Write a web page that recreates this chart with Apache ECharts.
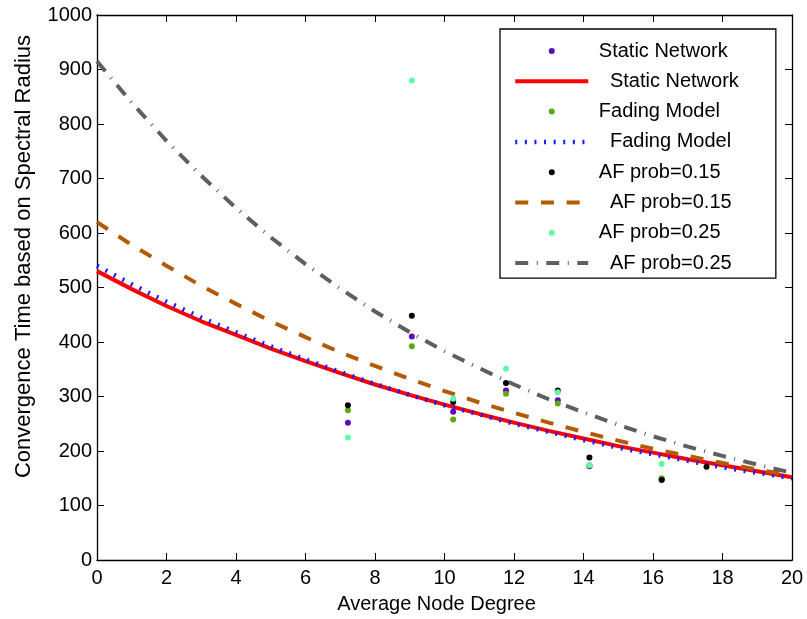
<!DOCTYPE html>
<html>
<head>
<meta charset="utf-8">
<script src="https://cdn.jsdelivr.net/npm/echarts@6/dist/echarts.min.js"></script>
<style>
html,body{margin:0;padding:0;background:#fff;}
#chart{width:807px;height:619px;}
</style>
</head>
<body>
<div id="chart"></div>
<script>
// ---- data ----
const curveX = [0,1,2,3,4,5,6,7,8,9,10,11,12,13,14,15,16,17,18,19,20];
const staticCurve = [530,497,466,438,413,388,365,343,322,303,285,268,252,237,223,209,197,185,174,163,152];
const fadingCurve = [540,506,474,445,418,392,368,345,323,303,284,267,250,235,220,206,194,182,170,160,150];
const af15Curve   = [620,578,540,503,470,438,409,381,356,332,310,289,270,252,235,219,204,191,178,166,155];
const af25Curve   = [915,839,769,705,646,592,543,498,456,418,383,352,322,295,271,248,227,208,191,175,160];

const staticPtsX = [7.22,9.06,10.25,11.77,13.26,14.17,16.25];
const staticPtsY = [252,410,272,311,293,172,148];
const fadingPtsX = [7.22,9.06,10.25,11.77,13.26,14.17,16.25];
const fadingPtsY = [275,392,258,305,287,174,150];
const af15PtsX   = [7.22,9.06,10.25,11.77,13.26,14.17,16.25,17.54];
const af15PtsY   = [284,448,290,325,311,188,147,171];
const af25PtsX   = [7.22,9.06,10.25,11.77,13.26,14.17,16.25];
const af25PtsY   = [225,880,296,351,308,174,176];

const xTicks = {min:0,max:20,interval:2};
const yTicks = {min:0,max:1000,interval:100};

const names = [' Static Network','   Static Network',' Fading Model','   Fading Model',
               ' AF prob=0.15','   AF prob=0.15',' AF prob=0.25','   AF prob=0.25'];

function zip(xs, ys){ return xs.map((x,i)=>[x, ys[i]]); }

const FONT = 'Liberation Sans';
const FS = 20;
const chart = echarts.init(document.getElementById('chart'), null, {renderer:'canvas'});

function scatter(name, xs, ys, color){
  return {name, type:'scatter', data: zip(xs,ys), symbol:'circle', symbolSize:6,
          itemStyle:{color, opacity:1}, xAxisIndex:0, yAxisIndex:0, animation:false, z:3};
}
function line(name, ys, color, width, type){
  return {name, type:'line', data: zip(curveX, ys), showSymbol:false, symbol:'none',
          lineStyle:{color, width, type}, itemStyle:{color}, xAxisIndex:0, yAxisIndex:0,
          animation:false, z:2};
}

const axisCommon = {
  axisLine:{show:true, onZero:false, lineStyle:{color:'#000', width:1.3}},
  axisTick:{show:true, inside:true, length:7, lineStyle:{color:'#000'}},
  splitLine:{show:false}
};
const plain = v => String(v);

const option = {
  backgroundColor:'#fff',
  animation:false,
  grid:{left:97, right:15, top:15, bottom:57, containLabel:false},
  xAxis:[
    Object.assign({type:'value', position:'bottom', min:xTicks.min, max:xTicks.max, interval:xTicks.interval,
      name:'Average Node Degree', nameLocation:'middle', nameGap:34,
      nameTextStyle:{fontFamily:FONT, fontSize:FS, color:'#000', padding:[0,16,0,0]},
      axisLabel:{fontFamily:FONT, fontSize:FS, color:'#000', margin:8, formatter:plain}}, axisCommon),
    Object.assign({type:'value', position:'top', min:xTicks.min, max:xTicks.max, interval:xTicks.interval,
      axisLabel:{show:false}}, axisCommon)
  ],
  yAxis:[
    Object.assign({type:'value', position:'left', min:yTicks.min, max:yTicks.max, interval:yTicks.interval,
      name:'Convergence Time based on Spectral Radius', nameLocation:'middle', nameGap:62,
      nameTextStyle:{fontFamily:FONT, fontSize:22, color:'#000', padding:[0,0,0,62]},
      axisLabel:{fontFamily:FONT, fontSize:FS, color:'#000', margin:5, formatter:plain}}, axisCommon),
    Object.assign({type:'value', position:'right', min:yTicks.min, max:yTicks.max, interval:yTicks.interval,
      axisLabel:{show:false}}, axisCommon)
  ],
  legend:{
    orient:'vertical', left:500, top:29,
    data:names.map((n,i)=> i%2===1 ? {name:n, itemStyle:{opacity:0}} : {name:n}),
    itemWidth:73, itemHeight:6, itemGap:10.3,
    padding:[12,37,5,13],
    borderColor:'#000', borderWidth:1.3, backgroundColor:'#fff',
    lineStyle:{width:'inherit'},
    textStyle:{fontFamily:FONT, fontSize:FS, color:'#000', lineHeight:20},
    selectedMode:false
  },
  series:[
    scatter(names[0], staticPtsX, staticPtsY, '#5b0cb3'),
    line(names[1], staticCurve, '#ff0000', 4, 'solid'),
    scatter(names[2], fadingPtsX, fadingPtsY, '#5ca810'),
    line(names[3], fadingCurve, '#1a1aff', 4.5, [2,7.6]),
    scatter(names[4], af15PtsX, af15PtsY, '#000000'),
    line(names[5], af15Curve, '#b35a00', 4, [13,12.7]),
    scatter(names[6], af25PtsX, af25PtsY, '#5efaa6'),
    line(names[7], af25Curve, '#5f5f5f', 4, [13,8.5,1,8.5])
  ]
};
chart.setOption(option);
</script>
</body>
</html>
